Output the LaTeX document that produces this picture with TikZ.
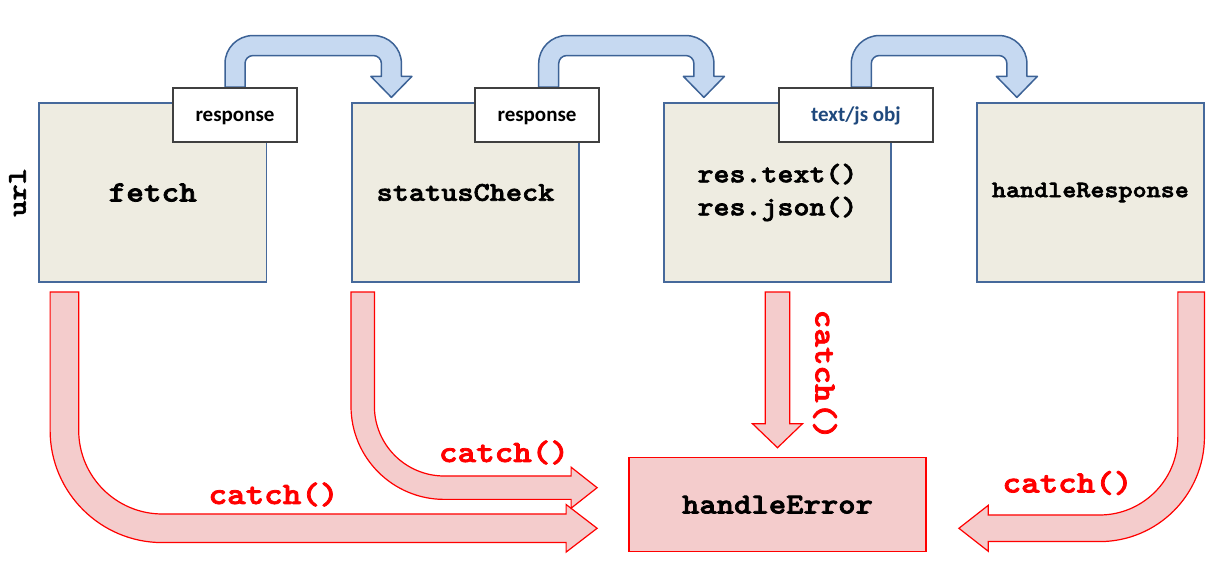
\documentclass[tikz,border=0pt]{standalone}
\usepackage{fontspec}
\newfontfamily\cour{lmmonolt10-bold}[Extension=.otf, FakeStretch=1.14, FakeBold=2.5]
\newfontfamily\calib{Carlito}
\usetikzlibrary{calc,backgrounds}
\definecolor{boxfill}{RGB}{238,236,225}
\definecolor{boxline}{RGB}{70,105,155}
\definecolor{bluefill}{RGB}{198,217,241}
\definecolor{blueline}{RGB}{60,98,150}
\definecolor{redfill}{RGB}{244,204,204}
\definecolor{navytext}{RGB}{31,73,125}
\definecolor{labline}{RGB}{64,64,64}
\tikzset{
  procbox/.style={draw=boxline, line width=1.2pt, fill=boxfill, minimum width=227pt,
    minimum height=179pt, inner sep=0pt},
  tagbox/.style={draw=labline, line width=1.5pt, fill=white, minimum height=54pt,
    inner sep=0pt, text height=13.4pt, text depth=0pt,
    font=\calib\bfseries\fontsize{21}{25}\selectfont},
  bluearrow/.style={draw=blueline, line width=1.5pt, fill=bluefill, line join=round},
  redarrow/.style={draw=red, line width=1.2pt, fill=redfill},
  catchlbl/.style={text=red, inner sep=0pt, font=\cour\fontsize{31}{36}\selectfont},
}
% blue bent arrow: #1 shaft start (centre), #2 tip
\newcommand\BlueArr[2]{%
  \path[bluearrow] let \p1=(#1), \p2=(#2) in
    ({\x1-10pt},\y1) -- ({\x1-10pt},{\y1+23.7pt})
    arc[start angle=180,end angle=90,radius=28pt]
    -- ({\x2-18pt},{\y1+51.7pt})
    arc[start angle=90,end angle=0,radius=28pt]
    -- ({\x2+10pt},{\y2+21pt}) -- ({\x2+20.5pt},{\y2+21pt}) -- (\x2,\y2)
    -- ({\x2-20.5pt},{\y2+21pt}) -- ({\x2-10pt},{\y2+21pt})
    -- ({\x2-10pt},{\y1+23.7pt})
    arc[start angle=0,end angle=90,radius=8pt]
    -- ({\x1+18pt},{\y1+31.7pt})
    arc[start angle=90,end angle=180,radius=8pt]
    -- ({\x1+10pt},\y1) -- cycle;}
% red arrow down then right: #1 start, #2 tip, #3 half width, #4 radius, #5 head length, #6 head half height
\newcommand\RedBendR[6]{%
  \path[redarrow] let \p1=(#1), \p2=(#2) in
    ({\x1-#3pt},\y1) -- ({\x1-#3pt},{\y2+#4pt})
    arc[start angle=180,end angle=270,radius={#4pt+#3pt}]
    -- ({\x2-#5pt},{\y2-#3pt}) -- ({\x2-#5pt},{\y2-#6pt}) -- (\x2,\y2)
    -- ({\x2-#5pt},{\y2+#6pt}) -- ({\x2-#5pt},{\y2+#3pt})
    -- ({\x1+#4pt},{\y2+#3pt})
    arc[start angle=270,end angle=180,radius={#4pt-#3pt}]
    -- ({\x1+#3pt},\y1) -- cycle;}
\newcommand\RedBendL[6]{%
  \path[redarrow] let \p1=(#1), \p2=(#2) in
    ({\x1+#3pt},\y1) -- ({\x1+#3pt},{\y2+#4pt})
    arc[start angle=0,end angle=-90,radius={#4pt+#3pt}]
    -- ({\x2+#5pt},{\y2-#3pt}) -- ({\x2+#5pt},{\y2-#6pt}) -- (\x2,\y2)
    -- ({\x2+#5pt},{\y2+#6pt}) -- ({\x2+#5pt},{\y2+#3pt})
    -- ({\x1-#4pt},{\y2+#3pt})
    arc[start angle=-90,end angle=0,radius={#4pt-#3pt}]
    -- ({\x1-#3pt},\y1) -- cycle;}
\newcommand\RedDown[5]{%
  \path[redarrow] let \p1=(#1), \p2=(#2) in
    ({\x1-#3pt},\y1) -- ({\x1-#3pt},{\y2+#4pt}) -- ({\x1-#5pt},{\y2+#4pt})
    -- (\x2,\y2) -- ({\x1+#5pt},{\y2+#4pt}) -- ({\x1+#3pt},{\y2+#4pt})
    -- ({\x1+#3pt},\y1) -- cycle;}
\begin{document}
\begin{tikzpicture}[x=1pt,y=1pt]
\useasboundingbox (0,0) rectangle (1229,562);
% process boxes
\node[procbox, minimum width=227.5pt, font=\cour\fontsize{29.5}{35}\selectfont]
  (fetch) at (152.75,369.5) {fetch};
\node[procbox, font=\cour\fontsize{27}{32}\selectfont]
  (stat) at (465.5,369.5) {statusCheck};
\node[procbox, align=center, font=\cour\fontsize{26.7}{33}\selectfont]
  (resn) at (777.5,369.5) {res.text()\\res.json()};
\node[procbox, font=\cour\fontsize{23.5}{28}\selectfont]
  (hresp) at (1090.4,369.5) {handleResponse};
\node[draw=red, line width=1.2pt, fill=redfill, minimum width=297pt, minimum height=94pt,
  inner sep=0pt, font=\cour\fontsize{29}{34}\selectfont]
  (hE) at (777.5,57.3) {handleError};
% url
\node[rotate=90, inner sep=0pt, font=\cour\fontsize{27}{32}\selectfont]
  (url) at (17.5,369.5) {url};
% tags
\node[tagbox, minimum width=124pt] (lab1) at (235,447) {response};
\node[tagbox, minimum width=124pt] (lab2) at (537,447) {response};
\node[tagbox, minimum width=154pt, text=navytext] (lab3) at (856,447) {text/js obj};
% catch labels
\node[catchlbl] (cA) at (273.5,67.5) {catch()};
\node[catchlbl] (cB) at (504,109.5) {catch()};
\node[catchlbl, rotate=-90] (cC) at (825,187.2) {catch()};
\node[catchlbl] (cD) at (1067.5,79) {catch()};
% arrows
\begin{scope}[on background layer]
\BlueArr{lab1.north}{$(stat.north west)+(40,5)$}
\BlueArr{$(lab2.north)+(11.7,0)$}{$(resn.north west)+(40.5,5)$}
\BlueArr{$(lab3.north)+(5.3,0)$}{$(hresp.north west)+(40.6,5)$}
\RedBendR{$(fetch.south west)+(26,-9.5)$}{$(hE.west)+(-31.3,-23.6)$}{14.3}{98}{31}{23.8}
\RedBendR{$(stat.south west)+(11.3,-9.5)$}{$(hE.west)+(-31.3,17)$}{11.7}{81.5}{26}{20.5}
\RedDown{$(resn.south)+(0,-9.5)$}{$(hE.north)+(0,9.4)$}{12.3}{24}{25}
\RedBendL{$(hresp.south east)+(-13.35,-9.5)$}{$(hE.east)+(32.3,-23.6)$}{13.3}{91.6}{29.4}{23}
\end{scope}
\end{tikzpicture}
\end{document}
